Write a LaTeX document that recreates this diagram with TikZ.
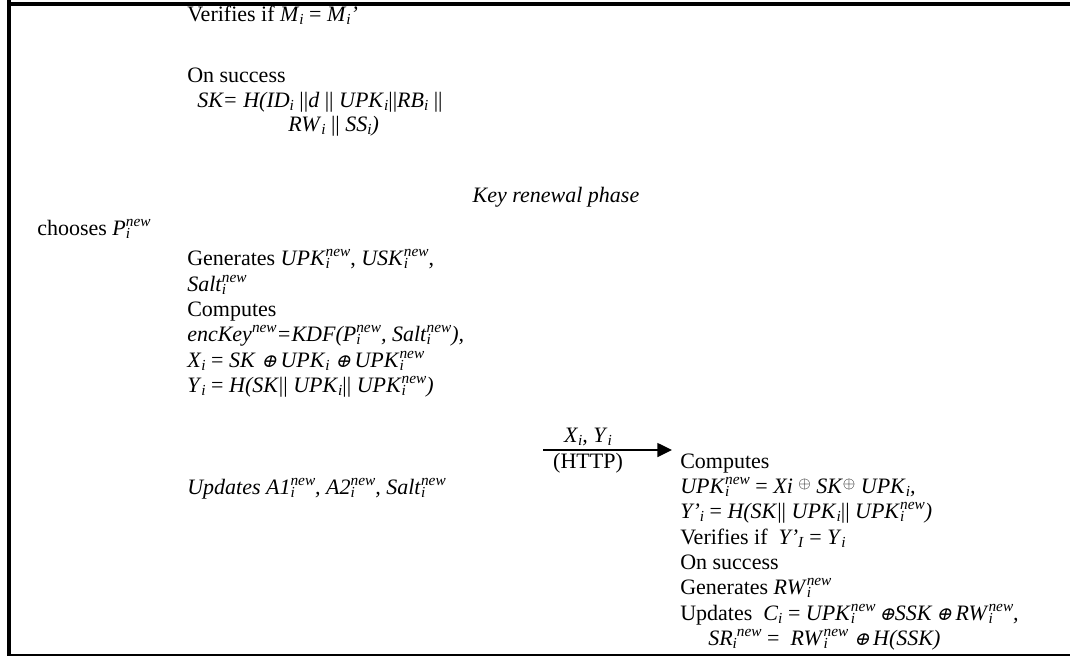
\documentclass[tikz,border=0pt]{standalone}
\usepackage{fontspec}
\setmainfont{Liberation Serif}
\newfontfamily\oxfont[FakeSlant=0.25,Scale=0.85]{DejaVu Serif}
\usetikzlibrary{arrows.meta}
\newcommand{\sbs}[1]{\raisebox{-2.6pt}{\fontsize{11.5}{11.5}\selectfont\textit{#1}}}
\newcommand{\sps}[1]{\raisebox{6.2pt}{\fontsize{11.5}{11.5}\selectfont\textit{#1}}}
\newcommand{\sbsp}[2]{\rlap{\sbs{#1}}\sps{#2}}
\newcommand{\ixo}{{\oxfont\char"2295}}
\newcommand{\rxo}{\raisebox{0.45ex}{\fontsize{13}{13}\selectfont$\oplus$}}
\begin{document}
\begin{tikzpicture}[x=0.75pt,y=-0.75pt,
  txt/.style={anchor=base west,inner sep=0pt,font=\fontsize{16.5}{19.8}\selectfont},
  ctxt/.style={anchor=base,inner sep=0pt,font=\fontsize{16.5}{19.8}\selectfont},
  msg/.style={line width=1.1pt,-{Triangle[length=11pt,width=10.5pt]}}]
\useasboundingbox (0,0) rectangle (1070,657);
% frame
\draw[line width=3pt] (9,0) -- (9,656);
\draw[line width=3pt] (7,4) -- (1070,4);
\draw[line width=1.1pt] (7,655) -- (1070,655);
% upper part
\node[txt] (l1) at (187,21) {Verifies if \textit{M}\sbs{i} = \textit{M}\sbs{i}\textit{’}};
\node[txt] (l2) at (187,82) {On success};
\node[txt] (l3) at (197,107) {\textit{SK= H(ID}\sbs{i} ||\textit{d} || \textit{UPK}\sbs{i}||\textit{RB}\sbs{i} ||};
\node[txt] (l4) at (288,131) {\textit{RW}\sbs{i} || \textit{SS}\sbs{i}\textit{)}};
\node[ctxt] (phase) at (556,202) {\textit{Key renewal phase}};
% user side
\node[txt] (c1) at (37,235) {chooses \textit{P}\sbsp{i}{new}};
\node[txt] (u1) at (187,265) {Generates \textit{UPK}\sbsp{i}{new}, \textit{USK}\sbsp{i}{new},};
\node[txt] (u2) at (187,291) {\textit{Salt}\sbsp{i}{new}};
\node[txt] (u3) at (187,316) {Computes};
\node[txt] (u4) at (187,341) {\textit{encKey}\sps{new}\textit{=KDF(P}\sbsp{i}{new}\textit{, Salt}\sbsp{i}{new}\textit{),}};
\node[txt] (u5) at (187,367) {\textit{X}\sbs{i} = \textit{SK} \ixo\,\textit{UPK}\sbs{i} \ixo\,\textit{UPK}\sbsp{i}{new}};
\node[txt] (u6) at (187,392) {\textit{Y}\sbs{i} = \textit{H(SK}|| \textit{UPK}\sbs{i}|| \textit{UPK}\sbsp{i}{new}\textit{)}};
\node[txt] (u7) at (187,494) {\textit{Updates A1}\sbsp{i}{new}\textit{, A2}\sbsp{i}{new}\textit{, Salt}\sbsp{i}{new}};
% message
\coordinate (m1) at (543,450);
\coordinate (m2) at (672,450);
\draw[msg] (m1) -- (m2);
\node[ctxt] (ml) at (588,442) {\textit{X}\sbs{i}\textit{, Y}\sbs{i}};
\node[ctxt] (mh) at (588,468) {(HTTP)};
% server side
\node[txt] (s1) at (680,468) {Computes};
\node[txt] (s2) at (680,493) {\textit{UPK}\sbsp{i}{new} = \textit{Xi} \rxo\ \textit{SK}\rxo\ \textit{UPK}\sbs{i}\textit{,}};
\node[txt] (s3) at (680,518) {\textit{Y’}\sbs{i} = \textit{H(SK}|| \textit{UPK}\sbs{i}|| \textit{UPK}\sbsp{i}{new}\textit{)}};
\node[txt] (s4) at (680,544) {Verifies if \ \textit{Y’}\sbs{I} = \textit{Y}\sbs{i}};
\node[txt] (s5) at (680,569) {On success};
\node[txt] (s6) at (680,594) {Generates \textit{RW}\sbsp{i}{new}};
\node[txt] (s7) at (680,620) {Updates \ \textit{C}\sbs{i} = \textit{UPK}\sbsp{i}{new}\,\ixo\textit{SSK}\,\ixo\,\textit{RW}\sbsp{i}{new}\textit{,}};
\node[txt] (s8) at (708,645) {\textit{SR}\sbs{i}\sps{new} = \ \textit{RW}\sbsp{i}{new} \ixo\,\textit{H(SSK)}};
\end{tikzpicture}
\end{document}
